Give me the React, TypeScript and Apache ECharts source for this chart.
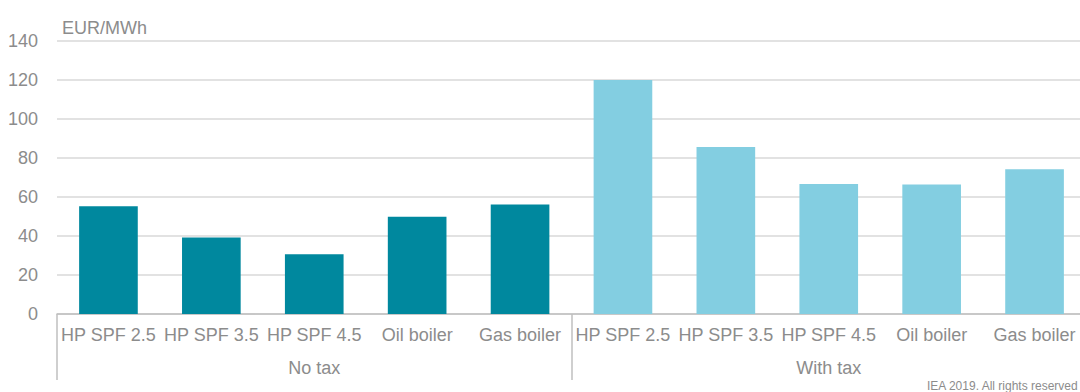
import React, { useEffect, useRef } from "react";
import * as echarts from "echarts";

const categories = ["HP SPF 2.5", "HP SPF 3.5", "HP SPF 4.5", "Oil boiler", "Gas boiler"];
const groups = ["No tax", "With tax"];
const noTax = [55.3, 39.2, 30.6, 49.9, 56.1];
const withTax = [120, 85.6, 66.7, 66.4, 74.2];
const yTicks = { min: 0, max: 140, interval: 20 };
const unitLabel = "EUR/MWh";
const footer = "IEA 2019. All rights reserved";

const DARK = "#00889E";
const LIGHT = "#83CEE1";
const TEXT = "#8c8c8c";
const FONT = "'Liberation Sans', Arial, sans-serif";

export default function App() {
  const ref = useRef<HTMLDivElement>(null);
  useEffect(() => {
    if (!ref.current) return;
    const chart = echarts.init(ref.current, undefined, { renderer: "svg" });
    const allCats = [...categories, ...categories];
    const data = [
      ...noTax.map((v) => ({ value: v, itemStyle: { color: DARK } })),
      ...withTax.map((v) => ({ value: v, itemStyle: { color: LIGHT } })),
    ];
    chart.setOption({
      animation: false,
      textStyle: { fontFamily: FONT },
      title: {
        text: unitLabel,
        left: 57,
        top: 14,
        textStyle: { fontFamily: FONT, fontSize: 18, fontWeight: "normal", color: TEXT },
      },
      graphic: [
        {
          type: "text",
          right: 1,
          bottom: 0,
          style: { text: footer, fontFamily: FONT, fontSize: 12, fill: TEXT },
        },
      ],
      grid: {
        left: 57,
        top: 41,
        bottom: 78,
        width: 1029,
        containLabel: false,
        outerBoundsMode: "none",
      },
      xAxis: [
        {
          type: "category",
          data: allCats,
          position: "bottom",
          axisLine: { show: true, lineStyle: { color: "#bfbfbf", width: 1.5 } },
          axisTick: { show: false },
          axisLabel: { fontFamily: FONT, fontSize: 18, color: TEXT, margin: 12, interval: 0 },
        },
        {
          type: "category",
          data: groups,
          position: "bottom",
          axisLine: { show: false },
          axisTick: { show: true, length: 66, lineStyle: { color: "#bfbfbf", width: 1.5 } },
          axisLabel: { fontFamily: FONT, fontSize: 18, color: TEXT, margin: 45 },
        },
      ],
      yAxis: {
        type: "value",
        min: yTicks.min,
        max: yTicks.max,
        interval: yTicks.interval,
        axisLine: { show: false },
        axisTick: { show: false },
        axisLabel: { fontFamily: FONT, fontSize: 18, color: TEXT, margin: 19 },
        splitLine: { lineStyle: { color: "#d9d9d9", width: 1.5 } },
      },
      series: [
        {
          type: "bar",
          xAxisIndex: 0,
          data,
          barWidth: "57%",
        },
      ],
    });
    return () => chart.dispose();
  }, []);
  return (
    <div
      ref={ref}
      style={{ position: "fixed", left: 0, top: 0, width: 1080, height: 392, background: "#fff" }}
    />
  );
}
